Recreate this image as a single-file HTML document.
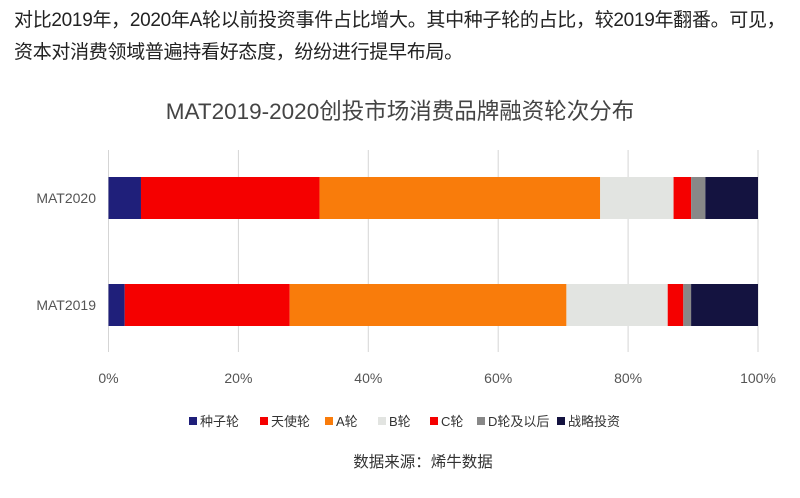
<!DOCTYPE html>
<html><head><meta charset="utf-8"><style>
body{margin:0;width:800px;height:498px;background:#fff;font-family:"Liberation Sans","Noto Sans CJK SC",sans-serif;overflow:hidden;position:relative}
.p{position:absolute;left:14px;font-size:19px;color:#222;white-space:nowrap;letter-spacing:-0.3px}
</style></head><body>
<div class="p" style="top:5px">对比2019年，2020年A轮以前投资事件占比增大。其中种子轮的占比，较2019年翻番。可见，</div>
<div class="p" style="top:37px">资本对消费领域普遍持看好态度，纷纷进行提早布局。</div>
<svg id="c" width="800" height="498" style="position:absolute;left:0;top:0"></svg>
<script>
const categories=["MAT2020","MAT2019"];
const seriesNames=["种子轮","天使轮","A轮","B轮","C轮","D轮及以后","战略投资"];
const seed=[5.0,2.5];
const angel=[27.5,25.4];
const roundA=[43.2,42.6];
const roundB=[11.3,15.6];
const roundC=[2.7,2.4];
const roundD=[2.2,1.2];
const strategic=[8.1,10.3];
const ticks=[0,20,40,60,80,100];
const tickLabels=["0%","20%","40%","60%","80%","100%"];
const series=[seed,angel,roundA,roundB,roundC,roundD,strategic];
const colors=["#1f1f7a","#f50000","#f97c0b","#e2e4e1","#f50000","#888888","#141340"];
const svg=document.getElementById('c');const NS='http://www.w3.org/2000/svg';
function mk(t,a,p){const e=document.createElementNS(NS,t);for(const k in a)e.setAttribute(k,a[k]);(p||svg).appendChild(e);return e;}
const x0=108.5,x1=758;const X=v=>x0+(x1-x0)*v/100;
const barY=[177,284],barH=42;
let t=mk('text',{x:400,y:119,'text-anchor':'middle','font-size':22.5,fill:'#444'});t.textContent="MAT2019-2020创投市场消费品牌融资轮次分布";


ticks.forEach((v,i)=>{
 const l=mk('line',{x1:X(v),x2:X(v),y1:150,y2:352,stroke:'#d5d5d5','stroke-width':1});
 
 
 const tx=mk('text',{x:X(v),y:383,'text-anchor':'middle','font-size':14,fill:'#555'});tx.textContent=tickLabels[i];
 
 
});
categories.forEach((c,ci)=>{
 const tx=mk('text',{x:96,y:barY[ci]+barH/2+5,'text-anchor':'end','font-size':14,fill:'#555'});tx.textContent=c;
 
 
 let acc=0;
 series.forEach((s,si)=>{
  const r=mk('rect',{x:X(acc),y:barY[ci],width:X(acc+s[ci])-X(acc),height:barH,fill:colors[si]});
  
  
  acc+=s[ci];
 });
});
const lx=[189,260,325,378,430,477,557];
seriesNames.forEach((n,i)=>{
 const r=mk('rect',{x:lx[i],y:417,width:8,height:8,fill:colors[i]});
 
 
 const tx=mk('text',{x:lx[i]+11,y:426,'font-size':13,fill:'#333'});tx.textContent=n;
 
 
});
t=mk('text',{x:423,y:467,'text-anchor':'middle','font-size':15.5,fill:'#333'});t.textContent="数据来源：烯牛数据";


</script>
</body></html>
